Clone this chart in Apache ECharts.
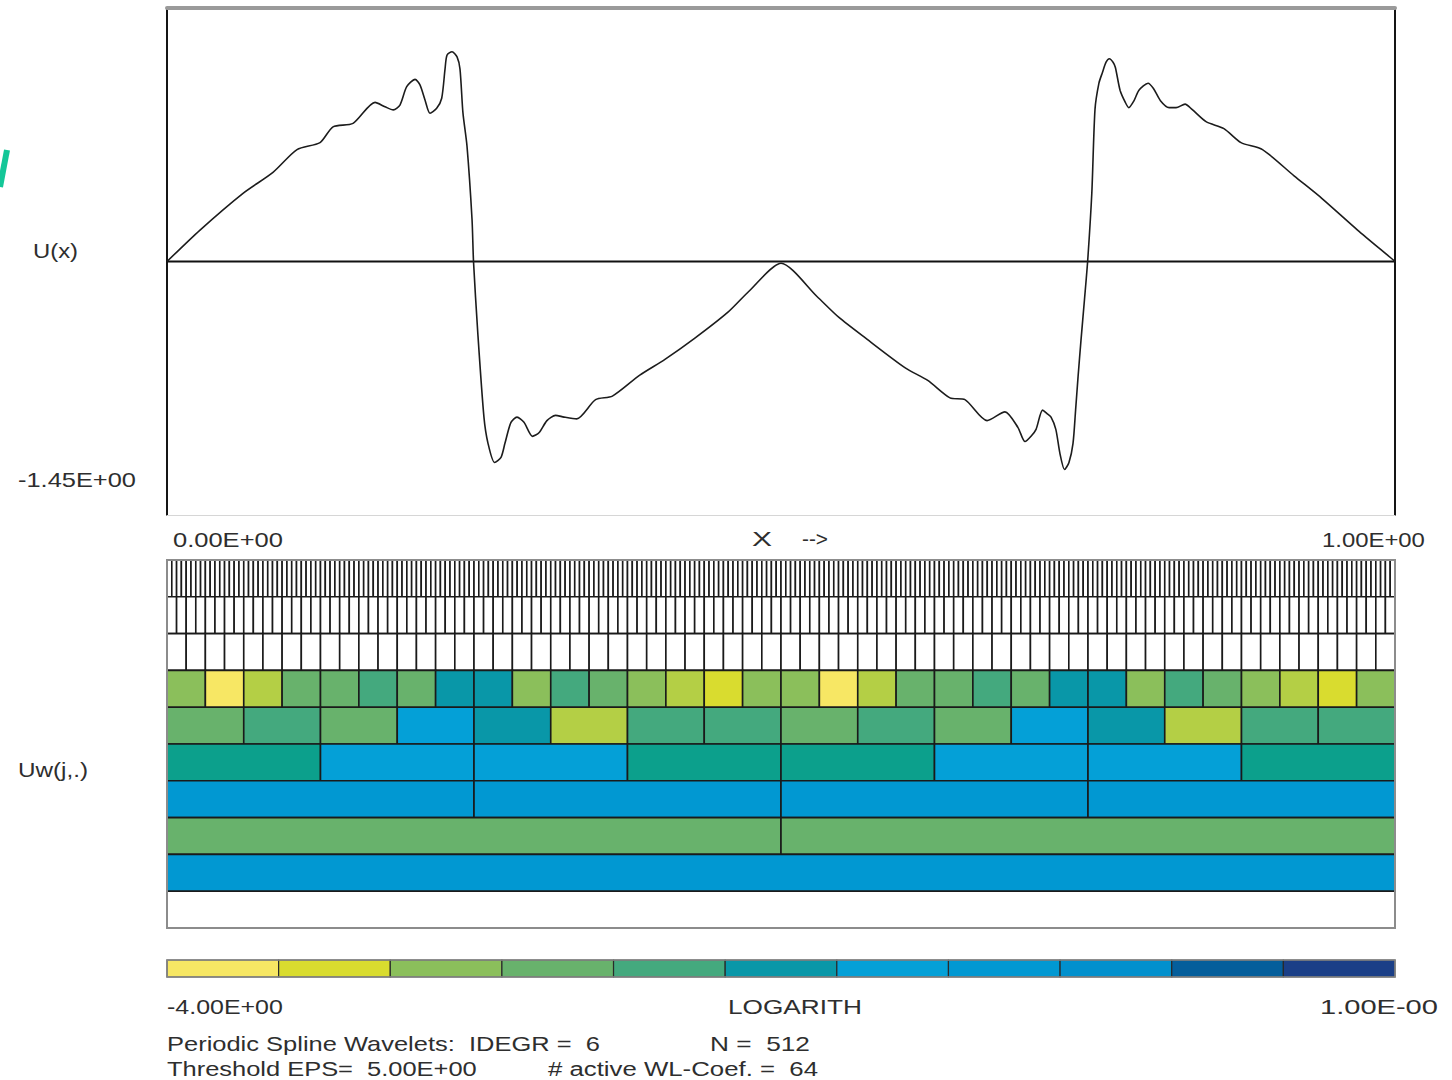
<!DOCTYPE html>
<html><head><meta charset="utf-8">
<script src="https://cdn.jsdelivr.net/npm/echarts/dist/echarts.min.js"></script>
<style>html,body{margin:0;padding:0;background:#fff}#c{width:1452px;height:1080px}</style>
</head><body><div id="c"></div>
<script>
// ---- U(x) curve (x in [0,1]) ----
const xPos = [0,0.0269,0.0619,0.0863,0.1059,0.1246,0.1352,0.1515,0.1694,0.1775,0.1843,0.1897,0.1952,0.2020,0.2060,0.2101,0.2142,0.2196,0.2237,0.2264,0.2280,0.2321,0.2362,0.2386,0.2410,0.2443,0.2484,0.2496,0.2531,0.2581,0.2614,0.2668,0.2720,0.2752,0.2801,0.2850,0.2907,0.2976,0.3029,0.3094,0.3164,0.3233,0.3336,0.3490,0.3627,0.3850,0.4055,0.4296,0.4568,0.4739,0.5000,0.5293,0.5472,0.5692,0.6015,0.6195,0.6376,0.6498,0.6678,0.6824,0.6930,0.6987,0.7036,0.7077,0.7130,0.7166,0.7199,0.7238,0.7272,0.7309,0.7345,0.7378,0.7399,0.7419,0.7443,0.7471,0.7497,0.7531,0.7557,0.7589,0.7617,0.7647,0.7674,0.7704,0.7723,0.7761,0.7804,0.7832,0.7875,0.7915,0.7989,0.8033,0.8090,0.8160,0.8217,0.8290,0.8347,0.8461,0.8607,0.8746,0.8921,0.9178,0.9406,0.9695,0.9967,1.0];
const uVal = [0,0.18,0.39,0.51,0.64,0.68,0.77,0.79,0.91,0.885,0.867,0.895,1.0,1.042,1.01,0.924,0.848,0.876,0.934,1.10,1.18,1.20,1.17,1.10,0.85,0.66,0.24,0.0,-0.41,-0.89,-1.04,-1.15,-1.12,-1.04,-0.92,-0.89,-0.92,-1.00,-0.98,-0.91,-0.88,-0.89,-0.90,-0.79,-0.77,-0.65,-0.56,-0.44,-0.29,-0.17,-0.01,-0.20,-0.32,-0.44,-0.61,-0.68,-0.78,-0.79,-0.91,-0.86,-0.95,-1.03,-1.00,-0.96,-0.85,-0.87,-0.89,-0.96,-1.10,-1.19,-1.15,-1.04,-0.85,-0.66,-0.45,-0.22,0.0,0.39,0.87,1.02,1.08,1.14,1.16,1.14,1.11,0.98,0.91,0.88,0.92,0.98,1.02,0.99,0.92,0.88,0.88,0.90,0.87,0.80,0.76,0.68,0.64,0.49,0.36,0.18,0.02,0.0];
const yLimit = 1.45;

// ---- wavelet coefficient magnitude classes per level (0 = smallest shade ... 12 = largest) ----
const cellsPerLevel = [256,128,64,32,16,8,4,2,1,1];   // j=8 ... j=0, scaling
const levelJ5 = [3,0,2,4,4,5,4,7,7,3,5,4,3,2,1,3, 3,0,2,4,4,5,4,7,7,3,5,4,3,2,1,3];
const levelJ4 = [4,5,4,8,7,2,5,5, 4,5,4,8,7,2,5,5];
const levelJ3 = [6,8,8,6, 6,8,8,6];
const levelJ2 = [9,9,9,9];
const levelJ1 = [4,4];
const levelJ0 = [9];
const activeLevels = [null,null,null,levelJ5,levelJ4,levelJ3,levelJ2,levelJ1,levelJ0,null];
const colorbarClasses = [0,1,3,4,5,7,8,9,10,11,12];
const shades = ['#f7e764','#d9dc2f','#b4cf45','#8bbf5b','#68b26c','#44a97e','#0ca08c','#0997a8','#04a0d7','#0198d2','#0190cd','#045e9b','#1b3f87'];

const curveData = xPos.map((x,i)=>[x,uVal[i]]);
const wlData = [];
cellsPerLevel.forEach((n,r)=>{
  const cls = activeLevels[r];
  for (let i=0;i<n;i++) wlData.push([i/n,(i+1)/n,r,cls?cls[i]:-1]);
});
const cbData = colorbarClasses.map((c,i)=>[i,i+1,c]);

const mctx = document.createElement('canvas').getContext('2d');
function label(text,left,right,cy,size){
  size = size||20;
  mctx.font = size+'px "Liberation Sans"';
  const w = mctx.measureText(text).width;
  return {type:'text',x:left,y:cy,scaleX:(right-left)/w,silent:true,z:200,
    style:{text:text,fontSize:size,fontFamily:'Liberation Sans',fill:'#2e2e2e',textAlign:'left',textVerticalAlign:'middle',verticalAlign:'middle'}};
}
const hid = {show:false};
const chart = echarts.init(document.getElementById('c'),null,{renderer:'svg'});
chart.setOption({
  animation:false,
  backgroundColor:'#fff',
  grid:[
    {left:167,top:8,width:1228,height:507},
    {left:167,top:560,width:1228,height:368},
    {left:167,top:960,width:1228,height:17}
  ],
  xAxis:[
    {gridIndex:0,type:'value',min:0,max:1,position:'bottom',axisLine:{show:true,onZero:false,lineStyle:{color:'#d6d6d6',width:1}},axisTick:hid,axisLabel:hid,splitLine:hid},
    {gridIndex:0,type:'value',min:0,max:1,position:'top',axisLine:{show:true,onZero:false,lineStyle:{color:'#9a9a9a',width:4}},axisTick:hid,axisLabel:hid,splitLine:hid},
    {gridIndex:1,type:'value',min:0,max:1,show:false},
    {gridIndex:2,type:'value',min:0,max:11,show:false}
  ],
  yAxis:[
    {gridIndex:0,type:'value',min:-yLimit,max:yLimit,position:'left',axisLine:{show:true,onZero:false,lineStyle:{color:'#151515',width:2}},axisTick:hid,axisLabel:hid,splitLine:hid},
    {gridIndex:0,type:'value',min:-yLimit,max:yLimit,position:'right',axisLine:{show:true,onZero:false,lineStyle:{color:'#151515',width:2}},axisTick:hid,axisLabel:hid,splitLine:hid},
    {gridIndex:1,type:'value',min:0,max:10,inverse:true,show:false},
    {gridIndex:2,type:'value',min:0,max:1,show:false}
  ],
  series:[
    {type:'line',xAxisIndex:0,yAxisIndex:0,data:[[0,0],[1,0]],symbol:'none',lineStyle:{color:'#111',width:2},z:2},
    {type:'line',xAxisIndex:0,yAxisIndex:0,data:curveData,symbol:'none',smooth:0.25,lineStyle:{color:'#1c1c1c',width:1.6},z:3},
    {type:'custom',xAxisIndex:2,yAxisIndex:2,data:wlData,encode:{x:[0,1],y:2},
      renderItem:function(p,api){
        const a = api.coord([api.value(0),api.value(2)]);
        const b = api.coord([api.value(1),api.value(2)+1]);
        const c = api.value(3);
        return {type:'rect',shape:{x:a[0],y:a[1],width:b[0]-a[0],height:b[1]-a[1]},
          style:{fill:c<0?'#ffffff':shades[c],stroke:'#1a1a1a',lineWidth:1.6}};
      }},
    {type:'custom',xAxisIndex:3,yAxisIndex:3,data:cbData,encode:{x:[0,1]},
      renderItem:function(p,api){
        const a = api.coord([api.value(0),1]);
        const b = api.coord([api.value(1),0]);
        return {type:'rect',shape:{x:a[0],y:a[1],width:b[0]-a[0],height:b[1]-a[1]},
          style:{fill:shades[api.value(2)],stroke:'#2a2a2a',lineWidth:1.2}};
      }}
  ],
  graphic:[
    {type:'rect',silent:true,z:150,shape:{x:167,y:560,width:1228,height:368},style:{fill:'none',stroke:'#8c8c8c',lineWidth:2}},
    {type:'rect',silent:true,z:150,shape:{x:167,y:960,width:1228,height:17},style:{fill:'none',stroke:'#8a8a8a',lineWidth:1.5}},
    {type:'line',silent:true,z:150,shape:{x1:7,y1:150,x2:0,y2:187},style:{stroke:'#14c798',lineWidth:6}},
    label('U(x)',33,78,251),
    label('-1.45E+00',18,136,480),
    label('0.00E+00',173,283,540),
    label('X',752,772,539),
    label('-->',802,828,539),
    label('1.00E+00',1322,1425,540),
    label('Uw(j,.)',18,88,770),
    label('-4.00E+00',167,283,1007),
    label('LOGARITH',728,862,1007),
    label('1.00E-00',1320,1438,1007),
    label('Periodic Spline Wavelets:  IDEGR =  6',167,600,1044),
    label('N =  512',710,810,1044),
    label('Threshold EPS=  5.00E+00',167,477,1069),
    label('# active WL-Coef. =  64',548,818,1069)
  ]
});
</script>
</body></html>
